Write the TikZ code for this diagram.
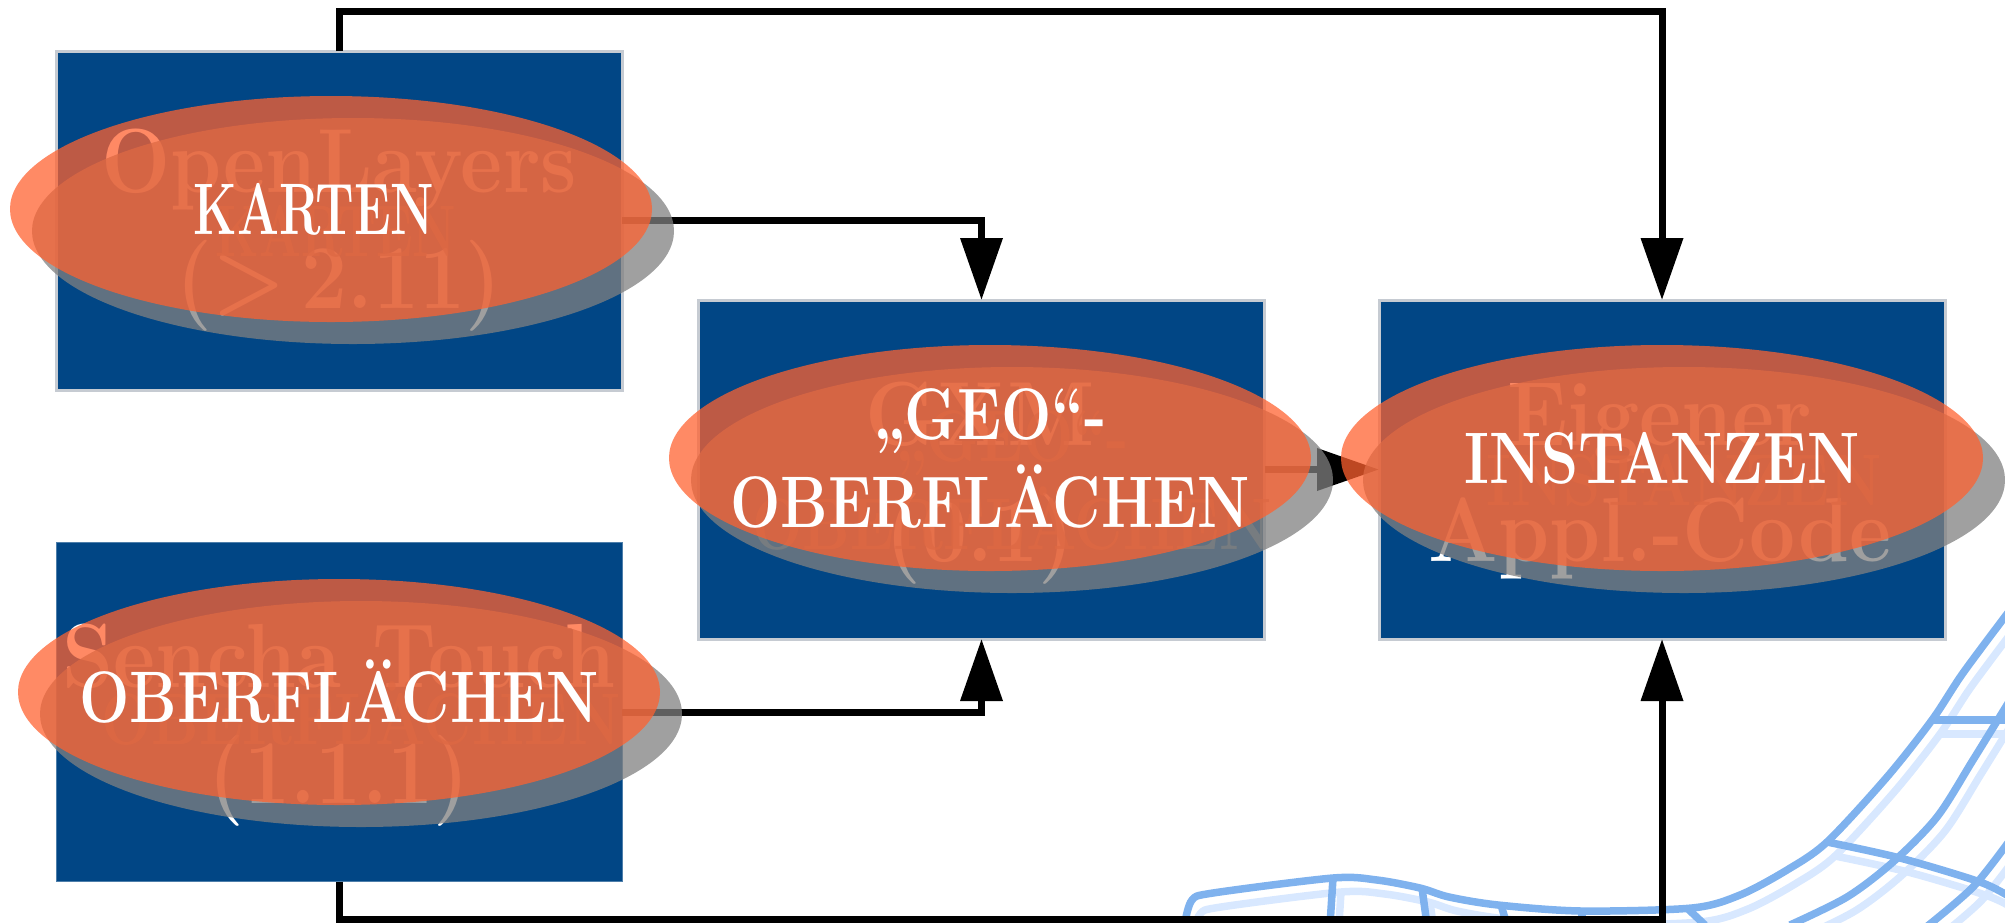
\documentclass[tikz,border=0pt]{standalone}
\usepackage{fontspec}
\setmainfont{Latin Modern Roman}
\newfontfamily\softface[FakeStretch=.9]{Latin Modern Roman}
\newfontfamily\ovalface[FakeStretch=.815]{Latin Modern Roman}
\usetikzlibrary{arrows.meta,shapes.geometric}
\definecolor{boxblue}{RGB}{1,70,133}
\definecolor{boxedge}{RGB}{198,203,210}
\definecolor{ovalred}{RGB}{255,97,47}
\definecolor{roaddark}{RGB}{127,178,238}
\definecolor{roadlight}{RGB}{216,232,255}
\tikzset{
  softbox/.style={rectangle,minimum width=566pt,minimum height=339pt,inner sep=0pt,outer sep=0pt,fill=boxblue,draw=boxedge,line width=3pt},
  softlabel/.style={text=white,align=center,font=\softface\bfseries\fontsize{91}{116}\selectfont},
  oval/.style={ellipse,minimum width=642pt,minimum height=226pt,inner xsep=-250pt,inner ysep=-60pt,outer sep=0pt,align=center,font=\ovalface\bfseries\fontsize{73}{88}\selectfont},
  ovaltop/.style={oval,fill=ovalred,fill opacity=.74,text opacity=1,text=white},
  ovalshadow/.style={oval,fill=black!50,fill opacity=.75,text opacity=.75,text=black!50},
  link/.style={line width=7pt,-{Triangle[length=62pt,width=41pt]}},
  road/.style={line width=7.5pt,line join=round}
}
\newcommand{\kartenword}{\scalebox{.83}[1]{KARTEN}\hspace*{34pt}}
\newcommand{\roadpaths}{
  \draw[road] plot[smooth] coordinates {(1185,922) (1192,900) (1213,893) (1333,878) (1377,880) (1420,888) (1449,897) (1498,905) (1581,911) (1692,908) (1740,895) (1787,870) (1827,842) (1887,777) (1932,720) (1963,673) (2010,610)};
  \draw[road] plot[smooth] coordinates {(1790,925) (1847,897) (1893,862) (1937,817) (1973,760) (2010,700)};
  \draw[road] plot[smooth] coordinates {(1925,928) (1973,887) (2010,840)};
  \draw[road] plot[smooth] coordinates {(1827,842) (1900,858) (1980,882) (2010,897)};
  \draw[road] (1932,720) -- (2005,720);
  \draw[road] (1333,878) -- (1330,925);
  \draw[road] (1422,888) -- (1427,925);
  \draw[road] (1501,905) -- (1507,925);
  \draw[road] (1581,911) -- (1584,925);
  \draw[road] (1687,908) -- (1705,925);
}
\begin{document}
\begin{tikzpicture}[x=1pt,y=-1pt]
\useasboundingbox (0,0) rectangle (2005,922);
% map in the corner
\begin{scope}[color=roadlight,shift={(8,14)}]
\roadpaths
\end{scope}
\begin{scope}[color=roaddark]
\roadpaths
\end{scope}
% boxes
\node[softbox] (openlayers) at (339,220.5) {};
\node[softbox,draw=boxblue!70,line width=1pt] (sencha) at (339,712) {};
\node[softbox] (gxm) at (981.5,469.5) {};
\node[softbox] (eigener) at (1662,469.5) {};
\node[softlabel] (openlayerslabel) at (339,230) {OpenLayers\\{\spaceskip=16pt (> 2.11)}};
\node[softlabel] (senchalabel) at (339,725) {Sencha Touch\\(1.1.1)};
\node[softlabel] (gxmlabel) at (980,483) {GXM\\(0.1)};
\node[softlabel] (eigenerlabel) at (1660,481) {Eigener\\Appl.-Code};
% connectors
\coordinate (topbend) at (eigener.north |- 0,11);
\coordinate (bottombend) at (eigener.south |- 0,919);
\draw[link] (openlayers.north) |- (topbend) -- (eigener.north);
\draw[link] (openlayers.east) -| (gxm.north);
\draw[link] (sencha.east) -| (gxm.south);
\draw[link] (gxm.east) -- (eigener.west);
\draw[link] (sencha.south) |- (bottombend) -- (eigener.south);
% ovals and their shadows
\node[ovalshadow] (kartenshadow) at (353,231) {\kartenword};
\node[ovalshadow] (geoshadow) at (1012,480) {„GEO“-\\OBERFLÄCHEN};
\node[ovalshadow] (instanzenshadow) at (1684,480) {INSTANZEN};
\node[ovalshadow] (oberflaechenshadow) at (361,714) {OBERFLÄCHEN};
\node[ovaltop] (karten) at (331,209) {\kartenword};
\node[ovaltop] (geo) at (990,458) {„GEO“-\\OBERFLÄCHEN};
\node[ovaltop] (instanzen) at (1662,458) {INSTANZEN};
\node[ovaltop] (oberflaechen) at (339,692) {OBERFLÄCHEN};
\end{tikzpicture}
\end{document}
